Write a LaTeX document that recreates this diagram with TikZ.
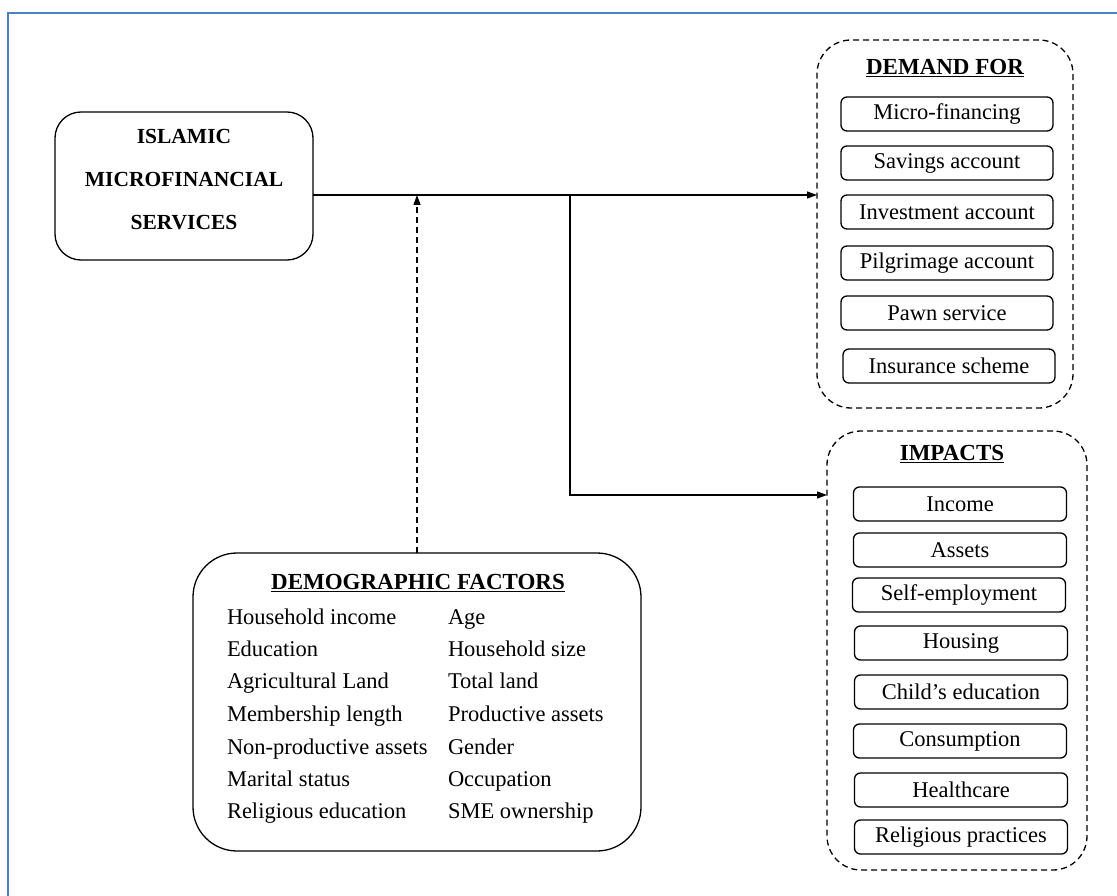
\documentclass[tikz,border=0pt]{standalone}
\usepackage{fontspec}
\setmainfont{Liberation Serif}
\usetikzlibrary{arrows.meta}
\definecolor{frameblue}{HTML}{4F81BD}
\tikzset{
  x=1pt, y=-1pt,
  every node/.style={inner sep=0pt, outer sep=0pt},
  arr/.style={line width=1.3pt, -{Triangle[length=10pt,width=7pt]}},
  bigbox/.style={draw, line width=1.3pt, rounded corners=26pt},
  groupbox/.style={draw, line width=1.3pt, dash pattern=on 6pt off 4pt, rounded corners=34pt},
  itembox/.style={draw, line width=1.3pt, rounded corners=6pt, minimum height=34pt,
    font=\fontsize{22.5}{25}\selectfont},
  ttl/.style={font=\fontsize{23}{26}\selectfont\bfseries},
  fac/.style={anchor=base west, font=\fontsize{22.5}{25}\selectfont},
}
\begin{document}
\begin{tikzpicture}
\useasboundingbox (0,0) rectangle (1117,896);
\clip (0,0) rectangle (1117,896);
\draw[frameblue, line width=1.6pt] (8,13) rectangle (1130,910);

% main box
\node[bigbox, minimum width=258pt, minimum height=148pt] (isl) at (184,186) {};
\node[align=center, font=\fontsize{21.5}{43}\selectfont\bfseries] (isltext) at (184,180)
  {ISLAMIC\\MICROFINANCIAL\\SERVICES};

% demand group
\node[groupbox, minimum width=256pt, minimum height=368pt] (demand) at (945,224) {};
\node[ttl] (dtitle) at (945,68) {\underline{DEMAND FOR}};
\node[itembox, minimum width=212pt] (d1) at (947,114) {Micro-financing};
\node[itembox, minimum width=212pt] (d2) at (947,163) {Savings account};
\node[itembox, minimum width=212pt] (d3) at (947,212) {Investment account};
\node[itembox, minimum width=212pt] (d4) at (947,263) {Pilgrimage account};
\node[itembox, minimum width=212pt] (d5) at (947,313) {Pawn service};
\node[itembox, minimum width=212pt] (d6) at (949,366) {Insurance scheme};

% impacts group
\node[groupbox, minimum width=260pt, minimum height=439pt] (impacts) at (957,650.5) {};
\node[ttl] (ititle) at (952,454) {\underline{IMPACTS}};
\node[itembox, minimum width=213pt] (i1) at (960,504) {Income};
\node[itembox, minimum width=213pt] (i2) at (960,550) {Assets};
\node[itembox, minimum width=213pt] (i3) at (959,595) {Self-employment};
\node[itembox, minimum width=213pt] (i4) at (961,643) {Housing};
\node[itembox, minimum width=213pt] (i5) at (961,692) {Child’s education};
\node[itembox, minimum width=213pt] (i6) at (960,741) {Consumption};
\node[itembox, minimum width=213pt] (i7) at (961,790) {Healthcare};
\node[itembox, minimum width=213pt] (i8) at (961,837) {Religious practices};

% demographic factors
\node[bigbox, rounded corners=44pt, minimum width=448pt, minimum height=298pt] (demo) at (417,702) {};
\node[ttl] (mtitle) at (418,583) {\underline{DEMOGRAPHIC FACTORS}};
\node[fac] (f1) at (227,624) {Household income};
\node[fac] (f2) at (227,656) {Education};
\node[fac] (f3) at (227,688) {Agricultural Land};
\node[fac] (f4) at (227,721) {Membership length};
\node[fac] (f5) at (227,754) {Non-productive assets};
\node[fac] (f6) at (227,786) {Marital status};
\node[fac] (f7) at (227,818) {Religious education};
\node[fac] (g1) at (448,624) {Age};
\node[fac] (g2) at (448,656) {Household size};
\node[fac] (g3) at (448,688) {Total land};
\node[fac] (g4) at (448,721) {Productive assets};
\node[fac] (g5) at (448,754) {Gender};
\node[fac] (g6) at (448,786) {Occupation};
\node[fac] (g7) at (448,818) {SME ownership};

% connectors
\coordinate (j1) at (570,195);
\coordinate (j2) at (570,495);
\draw[arr] (isl.east |- j1) -- (demand.west |- j1);
\draw[arr] (j1) -- (j2) -- (j2 -| impacts.west);
\draw[arr, dash pattern=on 6pt off 4pt] (demo.north) -- (demo.north |- j1);
\end{tikzpicture}
\end{document}
